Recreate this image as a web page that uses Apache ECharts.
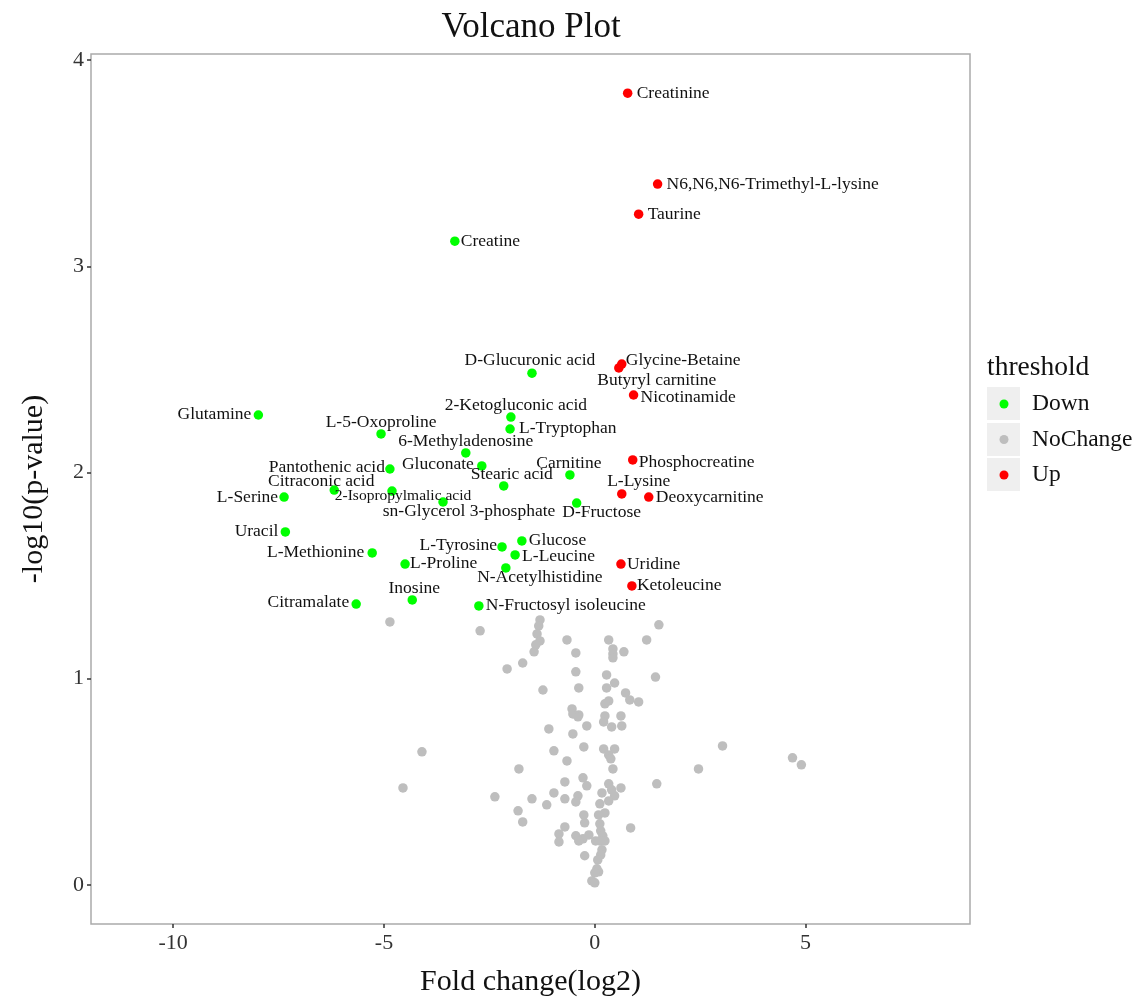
<!DOCTYPE html>
<html><head><meta charset="utf-8">
<script src="https://cdn.jsdelivr.net/npm/echarts/dist/echarts.min.js"></script>
<style>html,body{margin:0;padding:0;background:#fff}#chart{width:1139px;height:1002px}</style>
</head><body><div id="chart"></div>
<script>
const xTicks = [-10, -5, 0, 5];
const yTicks = [0, 1, 2, 3, 4];
const legendNames = ['Down', 'NoChange', 'Up'];

const upNames = ['Creatinine','N6,N6,N6-Trimethyl-L-lysine','Taurine','Glycine-Betaine','Butyryl carnitine','Nicotinamide','Phosphocreatine','L-Lysine','Deoxycarnitine','Uridine','Ketoleucine'];
const upX = [0.78,1.49,1.04,0.64,0.57,0.92,0.90,0.64,1.28,0.62,0.88];
const upY = [3.840,3.399,3.253,2.526,2.507,2.376,2.061,1.896,1.881,1.556,1.450];

const downNames = ['Creatine','D-Glucuronic acid','Glutamine','2-Ketogluconic acid','L-Tryptophan','L-5-Oxoproline','6-Methyladenosine','Gluconate','Pantothenic acid','Carnitine','Stearic acid','Citraconic acid','2-Isopropylmalic acid','L-Serine','sn-Glycerol 3-phosphate','D-Fructose','Uracil','Glucose','L-Tyrosine','L-Leucine','L-Methionine','L-Proline','N-Acetylhistidine','Inosine','Citramalate','N-Fructosyl isoleucine'];
const downX = [-3.32,-1.49,-7.98,-1.99,-2.01,-5.07,-3.06,-2.68,-4.86,-0.59,-2.16,-6.18,-4.81,-7.37,-3.60,-0.43,-7.34,-1.73,-2.20,-1.89,-5.28,-4.50,-2.11,-4.33,-5.66,-2.75];
const downY = [3.122,2.482,2.279,2.269,2.211,2.187,2.095,2.032,2.017,1.988,1.935,1.915,1.910,1.881,1.857,1.852,1.712,1.668,1.639,1.600,1.610,1.556,1.537,1.382,1.362,1.353];

const noChangeX = [-4.86,-2.72,-1.30,-1.33,-1.37,-1.30,-1.40,-1.44,-1.71,-2.08,-0.66,-0.45,-0.45,-0.38,-1.23,0.33,0.43,0.43,0.43,0.69,1.23,1.52,1.44,0.28,0.47,0.28,0.73,0.83,1.04,0.33,0.24,-0.54,-0.52,-0.38,-0.40,0.24,0.21,0.62,0.40,0.64,-0.19,-1.09,-0.52,-0.97,-0.26,0.21,0.47,0.33,0.38,-0.66,-1.80,0.43,1.47,-2.37,-1.49,-0.97,-0.71,-0.28,-0.19,0.33,0.40,0.62,0.47,0.17,0.33,-0.71,-0.40,-0.45,-1.14,0.12,0.24,0.09,-1.82,-1.71,-0.26,-0.24,-0.71,0.12,0.14,0.19,0.12,0.24,0.85,-0.85,-0.85,-0.45,-0.28,-0.14,-0.38,0.02,0.17,0.14,0.07,-0.24,0.05,0.09,0.00,-0.07,0.00,-4.10,-4.55,2.46,3.03,4.69,4.90];
const noChangeY = [1.275,1.232,1.285,1.256,1.217,1.183,1.164,1.130,1.076,1.047,1.188,1.125,1.033,0.955,0.945,1.188,1.144,1.120,1.101,1.130,1.188,1.261,1.008,1.018,0.979,0.955,0.931,0.897,0.887,0.892,0.878,0.853,0.829,0.824,0.815,0.819,0.790,0.819,0.766,0.771,0.771,0.756,0.732,0.650,0.669,0.659,0.659,0.630,0.611,0.601,0.562,0.562,0.490,0.427,0.417,0.446,0.499,0.519,0.480,0.490,0.461,0.470,0.432,0.446,0.407,0.417,0.432,0.402,0.388,0.393,0.349,0.339,0.359,0.305,0.339,0.301,0.281,0.296,0.262,0.238,0.213,0.213,0.276,0.247,0.208,0.238,0.223,0.242,0.213,0.213,0.170,0.145,0.121,0.141,0.078,0.063,0.058,0.019,0.010,0.645,0.470,0.562,0.674,0.616,0.582];

// label layout: [align, dx, dy, optional fontSize]
const labelPlacement = {
  'Creatinine': ['left', 9, 0],
  'N6,N6,N6-Trimethyl-L-lysine': ['left', 9, 0],
  'Taurine': ['left', 9, 0],
  'Glycine-Betaine': ['left', 4, -4],
  'Butyryl carnitine': ['center', 38, 12],
  'Nicotinamide': ['left', 7, 2],
  'Phosphocreatine': ['left', 6, 2],
  'L-Lysine': ['center', 17, -13],
  'Deoxycarnitine': ['left', 7, 0],
  'Uridine': ['left', 6, 0],
  'Ketoleucine': ['left', 5, 0],
  'Creatine': ['left', 6, 0],
  'D-Glucuronic acid': ['center', -2, -13],
  'Glutamine': ['right', -7, -1],
  '2-Ketogluconic acid': ['center', 5, -12],
  'L-Tryptophan': ['left', 9, -1],
  'L-5-Oxoproline': ['center', 0, -12],
  '6-Methyladenosine': ['center', 0, -12],
  'Gluconate': ['right', -8, -2],
  'Pantothenic acid': ['right', -5, -2],
  'Carnitine': ['center', -1, -12],
  'Stearic acid': ['center', 8, -12],
  'Citraconic acid': ['center', -13, -9],
  '2-Isopropylmalic acid': ['center', 11, 5, 15.5],
  'L-Serine': ['right', -6, 0],
  'sn-Glycerol 3-phosphate': ['center', 26, 9],
  'D-Fructose': ['center', 25, 9],
  'Uracil': ['right', -7, 0],
  'Glucose': ['left', 7, -1],
  'L-Tyrosine': ['right', -5, -2],
  'L-Leucine': ['left', 7, 1],
  'L-Methionine': ['right', -8, -1],
  'L-Proline': ['left', 5, -1],
  'N-Acetylhistidine': ['center', 34, 9],
  'Inosine': ['center', 2, -12],
  'Citramalate': ['right', -7, -2],
  'N-Fructosyl isoleucine': ['left', 7, 0]
};

const FONT = "'Liberation Serif', 'Times New Roman', serif";
const TEXT = '#111111';

function labeled(names, xs, ys) {
  return names.map((n, i) => {
    const p = labelPlacement[n] || ['left', 6, 0];
    return {
      name: n,
      value: [xs[i], ys[i]],
      label: {
        show: true, position: 'inside', formatter: n,
        align: p[0], verticalAlign: 'middle', offset: [p[1], p[2]],
        fontFamily: FONT, fontSize: p[3] || 17.5, color: TEXT,
        textBorderWidth: 0, textBorderColor: 'transparent', opacity: 1
      }
    };
  });
}

const chart = echarts.init(document.getElementById('chart'), null, {renderer: 'canvas'});
chart.setOption({
  animation: false,
  backgroundColor: '#ffffff',
  grid: {left: 91, right: 169, top: 54, bottom: 77, show: true, borderColor: '#ababab', borderWidth: 1.5, backgroundColor: '#ffffff'},
  xAxis: {
    type: 'value', min: -11.95, max: 8.9,
    name: 'Fold change(log2)', nameLocation: 'middle', nameGap: 43,
    nameTextStyle: {fontFamily: FONT, fontSize: 30, color: TEXT},
    axisLine: {show: false, onZero: false}, splitLine: {show: false},
    axisTick: {show: true, customValues: xTicks, length: 4, lineStyle: {color: '#333', width: 1.5}},
    axisLabel: {customValues: xTicks, margin: 8, fontFamily: FONT, fontSize: 22, color: '#333'}
  },
  yAxis: {
    type: 'value', min: -0.19, max: 4.03,
    name: '-log10(p-value)', nameLocation: 'middle', nameGap: 42,
    nameTextStyle: {fontFamily: FONT, fontSize: 30, color: TEXT},
    axisLine: {show: false, onZero: false}, splitLine: {show: false},
    axisTick: {show: true, customValues: yTicks, length: 4, lineStyle: {color: '#333', width: 1.5}},
    axisLabel: {customValues: yTicks, margin: 7, fontFamily: FONT, fontSize: 22, color: '#333'}
  },
  legend: {
    data: legendNames, orient: 'vertical', left: 999.5, top: 391, padding: 0,
    itemWidth: 46, itemHeight: 9, itemGap: 9.5, icon: 'circle',
    textStyle: {fontFamily: FONT, fontSize: 23.5, color: TEXT, lineHeight: 26}
  },
  graphic: [
    {type: 'text', x: 531, y: 28, style: {text: 'Volcano Plot', font: "35px 'Liberation Serif', serif", fill: TEXT, textAlign: 'center', textVerticalAlign: 'middle'}},
    {type: 'text', x: 987, y: 368, style: {text: 'threshold', font: "27.5px 'Liberation Serif', serif", fill: TEXT, textAlign: 'left', textVerticalAlign: 'middle'}},
    {type: 'rect', shape: {x: 987, y: 387, width: 33, height: 33}, style: {fill: '#efefef'}, z: -1},
    {type: 'rect', shape: {x: 987, y: 423, width: 33, height: 33}, style: {fill: '#efefef'}, z: -1},
    {type: 'rect', shape: {x: 987, y: 458, width: 33, height: 33}, style: {fill: '#efefef'}, z: -1}
  ],
  series: [
    {name: 'NoChange', type: 'scatter', symbol: 'circle', symbolSize: 9.5, itemStyle: {color: '#bebebe', opacity: 1},
     data: noChangeX.map((x, i) => [x, noChangeY[i]]), z: 2},
    {name: 'Down', type: 'scatter', symbol: 'circle', symbolSize: 9.5, itemStyle: {color: '#00ff00', opacity: 1},
     data: labeled(downNames, downX, downY), z: 3},
    {name: 'Up', type: 'scatter', symbol: 'circle', symbolSize: 9.5, itemStyle: {color: '#ff0000', opacity: 1},
     data: labeled(upNames, upX, upY), z: 3}
  ]
});
</script></body></html>
